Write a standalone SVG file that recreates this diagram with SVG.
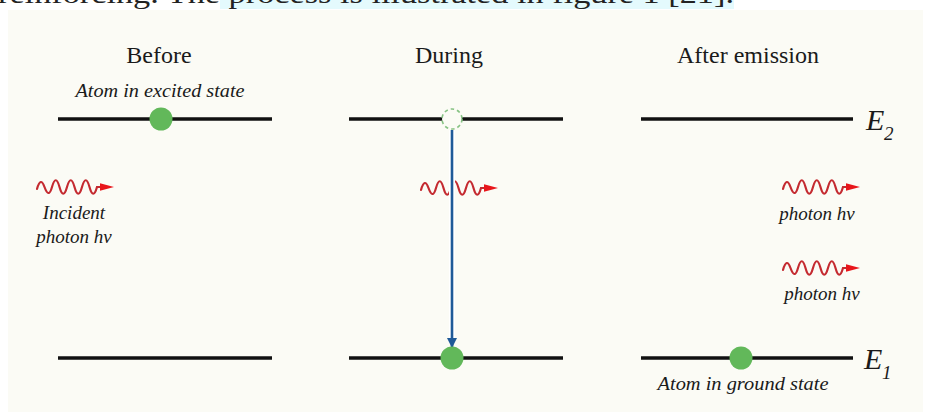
<svg xmlns="http://www.w3.org/2000/svg" width="927" height="412" viewBox="0 0 927 412">
<style>
.hdr{font-family:"Liberation Serif","Times New Roman",serif;font-size:24px;fill:#1a1a1a;text-anchor:middle}
.lbl{font-family:"Liberation Serif","Times New Roman",serif;font-style:italic;font-size:19px;fill:#1a1a1a;text-anchor:middle}
.lvl{stroke:#111;stroke-width:3.5;stroke-linecap:butt}
.atom{fill:#62b85a}
.en{font-family:"Liberation Serif","Times New Roman",serif;font-style:italic;fill:#1a1a1a}
.wave{fill:none;stroke:#c42a30;stroke-width:2.2;stroke-linecap:round}
.whead{fill:#e8161b}
.page{font-family:"Liberation Serif","Times New Roman",serif;font-size:28px;fill:#222}
</style>
<defs>
<g id="photon">
<path class="wave" d="M0,2 c2.5,-9 5,-9 7.5,-2 s5,9 7.5,0 s5,-9 7.5,0 s5,9 7.5,0 s5,-9 7.5,0 s5,9 7.5,0 s5,-9 7.5,0 s5,9 7.5,0 L66,0"/>
<polygon class="whead" points="63,-3.8 77,0 63,3.8"/>
</g>
<marker id="blueArrow" markerWidth="10" markerHeight="12" refX="9" refY="6" orient="auto" markerUnits="userSpaceOnUse">
<path d="M0,1 L10,6 L0,11 Z" fill="#1f5a98"/>
</marker>
</defs>

<rect x="0" y="0" width="927" height="412" fill="#ffffff"/>
<rect x="220" y="0" width="514" height="9" fill="#e4fafd"/>
<text class="page" x="-2" y="3" textLength="736" lengthAdjust="spacingAndGlyphs">reinforcing. The process is illustrated in figure 1 [21].</text>
<rect x="8" y="10" width="915" height="402" fill="#fbfbf5"/>

<g id="headers">
<text class="hdr" x="159" y="63">Before</text>
<text class="hdr" x="449" y="63">During</text>
<text class="hdr" x="748" y="63">After emission</text>
</g>

<g id="before">
<text class="lbl" x="160" y="97" textLength="169" lengthAdjust="spacingAndGlyphs">Atom in excited state</text>
<line class="lvl" x1="58" y1="119" x2="272" y2="119"/>
<circle class="atom" cx="161" cy="119" r="11.5"/>
<line class="lvl" x1="58" y1="358" x2="272" y2="358"/>
<use href="#photon" x="37" y="187"/>
<text class="lbl" x="74" y="219">Incident</text>
<text class="lbl" x="74" y="243">photon hν</text>
</g>

<g id="during">
<line class="lvl" x1="349" y1="119" x2="563" y2="119"/>
<circle cx="452" cy="119" r="10" fill="#fbfbf5" stroke="#86c283" stroke-width="1.6" stroke-dasharray="3.5,3"/>
<line class="lvl" x1="349" y1="358" x2="563" y2="358"/>
<use href="#photon" x="421" y="188"/>
</g>

<g id="connectors">
<line x1="452" y1="130" x2="452" y2="340" stroke="#ffffff" stroke-width="6"/>
<line x1="452" y1="130" x2="452" y2="347" stroke="#1f5a98" stroke-width="2.6" marker-end="url(#blueArrow)"/>
</g>

<g id="during-atom">
<circle class="atom" cx="452" cy="358" r="11.5"/>
</g>

<g id="after">
<line class="lvl" x1="641" y1="119" x2="853" y2="119"/>
<line class="lvl" x1="641" y1="358" x2="853" y2="358"/>
<circle class="atom" cx="741" cy="358" r="11.5"/>
<text class="lbl" x="743" y="390" textLength="171" lengthAdjust="spacingAndGlyphs">Atom in ground state</text>
<use href="#photon" x="783" y="187"/>
<text class="lbl" x="817" y="220">photon hν</text>
<use href="#photon" x="783" y="268"/>
<text class="lbl" x="822" y="300">photon hν</text>
</g>

<g id="levels">
<text class="en" x="866" y="130" font-size="30">E</text>
<text class="en" x="884" y="140" font-size="19">2</text>
<text class="en" x="864" y="369" font-size="30">E</text>
<text class="en" x="882" y="379" font-size="19">1</text>
</g>
</svg>
